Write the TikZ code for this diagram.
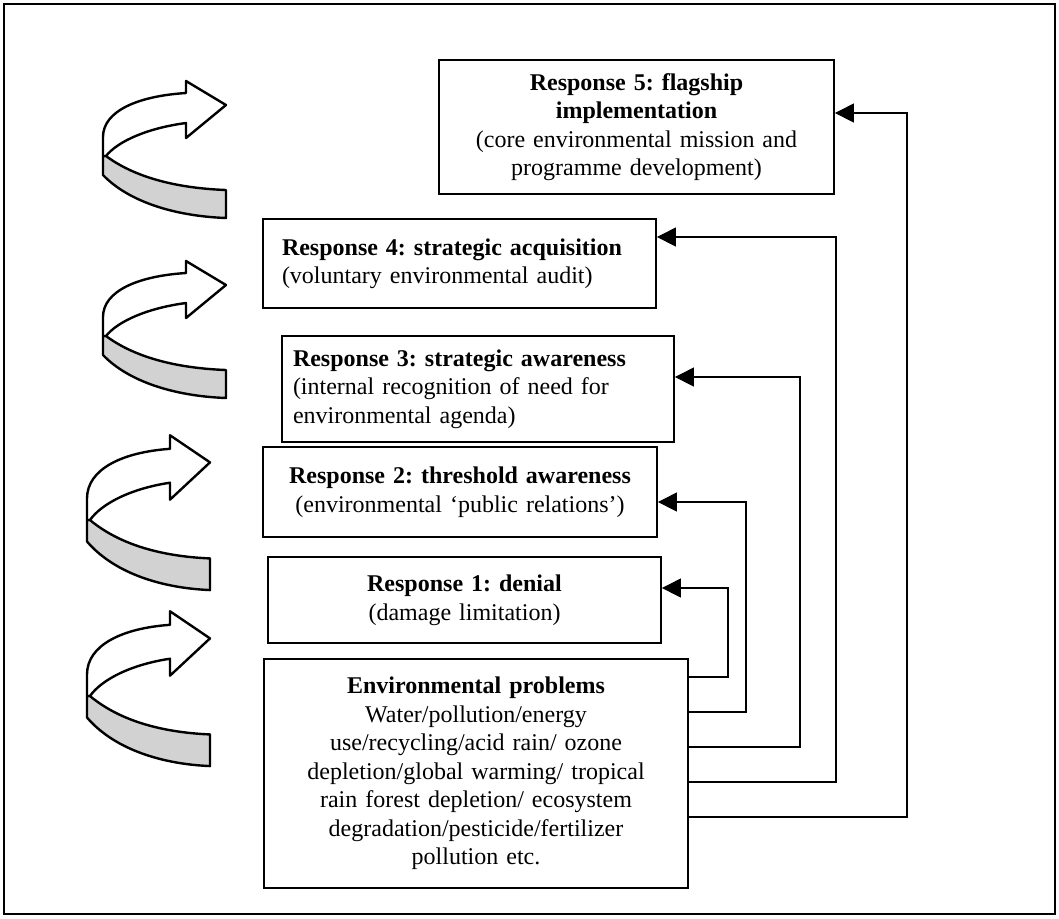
\documentclass[tikz,border=0pt]{standalone}
\usepackage{fontspec}
\setmainfont{Liberation Serif}
\usetikzlibrary{arrows.meta}
\frenchspacing

\begin{document}
\begin{tikzpicture}[x=0.5pt, y=-0.5pt, font=\fontsize{12}{14.25}\selectfont,
  box/.style={draw, line width=0.9pt, inner xsep=0pt, inner ysep=2pt, align=center},
  link/.style={line width=0.6pt, -{Triangle[length=9.5pt, width=9.5pt]}},
  twist/.style={line width=1.2pt, line join=round}]
  \useasboundingbox (0,0) rectangle (1059,918);
  \draw[line width=1pt] (4,4) rectangle (1055,914);
  % the five responses and the problems
  \node[box, text width=197.5pt, minimum height=67pt] (r5) at (636.5,127) {\textbf{Response 5: flagship}\\\textbf{implementation}\\(core environmental mission and\\programme development)};
  \node[box, align=left, inner xsep=9.5pt, text width=177.5pt, minimum height=44.5pt] (r4) at (459.5,263.5) {\textbf{Response 4: strategic acquisition}\\(voluntary environmental audit)\\[4pt]};
  \node[box, align=left, inner xsep=5.5pt, text width=185pt, minimum height=53pt] (r3) at (478,389) {\textbf{Response 3: strategic awareness}\\(internal recognition of need for\\environmental agenda)};
  \node[box, text width=197pt, minimum height=45pt] (r2) at (460,492) {\textbf{Response 2: threshold awareness}\\(environmental ‘public relations’)};
  \node[box, text width=196.5pt, minimum height=43pt] (r1) at (464.5,600) {\textbf{Response 1: denial}\\(damage limitation)};
  \node[box, text width=212pt, minimum height=114.5pt] (env) at (476,773.5) {\textbf{Environmental problems}\\Water/pollution/energy\\use/recycling/acid rain/ ozone\\depletion/global warming/ tropical\\rain forest depletion/ ecosystem\\degradation/pesticide/fertilizer\\pollution etc.};
  % feedback lines
  \foreach \b/\ys/\xv/\ye in {r1/677/728/588, r2/712/746/502, r3/747/800/377, r4/782/836/237, r5/817/907/113}
    \draw[link] (env.east |- 0,\ys) -| (\xv,\ye) -- (\b.east |- 0,\ye);
  % curled arrows on the left
  \foreach \jx/\jy/\s in {103/156/1, 103/336/1, 87/520/1.13, 87/696/1.13} {
    \begin{scope}[shift={(\jx,\jy)}, yscale=\s]
      \filldraw[twist, fill=gray!35] (0,0) -- (0,19) .. controls (25,45) and (70,60) .. (123,62) -- (123,34) .. controls (70,32) and (30,20) .. (3,0) -- cycle;
      \filldraw[twist, fill=white] (3,0) -- (0,0) -- (0,-19) .. controls (0,-45) and (35,-60) .. (83,-63) -- (83,-75) -- (123,-51) -- (83,-18) -- (83,-33) .. controls (45,-28) and (15,-15) .. (3,0) -- cycle;
    \end{scope}
  }
\end{tikzpicture}
\end{document}
